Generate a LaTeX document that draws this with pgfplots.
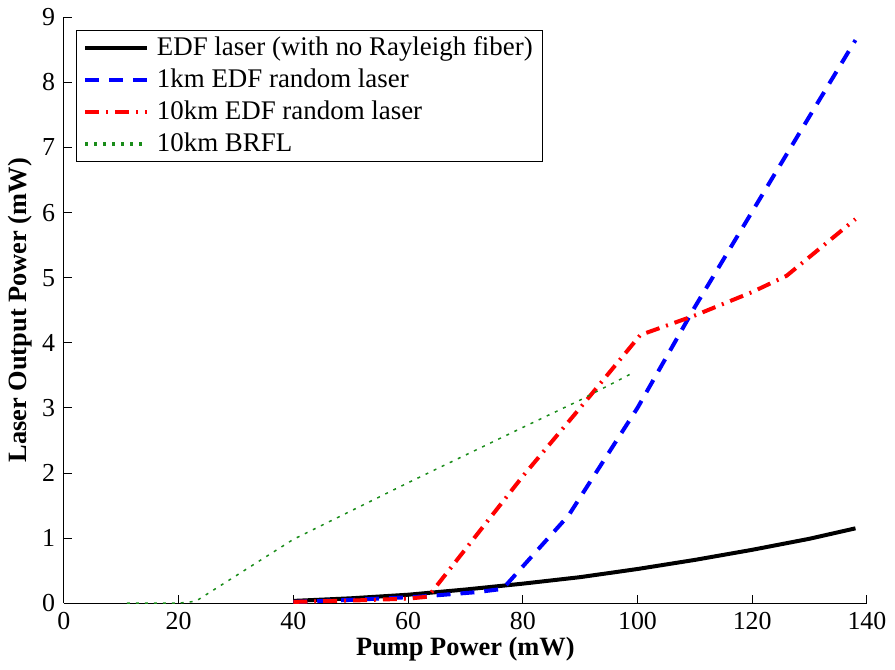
\documentclass[border=0pt]{standalone}
\usepackage{fontspec}
\setmainfont{Liberation Serif}
\usepackage{pgfplots}
\pgfplotsset{compat=1.18}
\definecolor{mgreen}{rgb}{0.1,0.55,0.1}
\begin{document}
\fontsize{26}{31}\selectfont
\begin{tikzpicture}
\begin{axis}[
  scale only axis,
  width=806pt, height=588pt,
  xmin=0, xmax=140, ymin=0, ymax=9,
  xtick={0,20,...,140}, ytick={0,1,...,9},
  axis x line*=bottom, axis y line*=left,
  axis line style={line width=0.9pt, -},
  tick style={line width=0.9pt, black},
  tick align=inside, major tick length=8pt,
  /pgf/number format/assume math mode=true,
  ticklabel style={font=\fontsize{26}{31}\selectfont},
  xlabel={\bfseries Pump Power (mW)},
  ylabel={\bfseries Laser Output Power (mW)},
  label style={font=\fontsize{26.5}{31}\selectfont},
  xlabel style={yshift=10pt},
  ylabel style={yshift=-8pt},
  clip=false,
  legend cell align=left,
  legend style={at={(0,1)}, anchor=north west, xshift=12pt, yshift=-13pt,
    font=\fontsize{27}{32}\selectfont, draw=black, line width=0.9pt,
    inner xsep=7pt, inner ysep=3pt, row sep=3.5pt,
    nodes={inner sep=3pt},
    /tikz/every odd column/.append style={column sep=5pt}},
  legend image code/.code={\draw[#1, line width=\pgfkeysvalueof{/pgfplots/lwleg}] (0pt,0pt) -- (62pt,0pt);},
  lwleg/.initial=4pt,
]
\addplot[black, line width=4pt] coordinates {
(40,0.035) (50,0.075) (60,0.13) (70,0.21) (80,0.30) (90,0.40) (100,0.525) (110,0.665) (120,0.82) (130,0.99) (138,1.15)};
\addlegendentry{EDF laser (with no Rayleigh fiber)}
\addplot[blue, line width=4pt, dash pattern=on 14pt off 10pt] coordinates {
(40,0.02) (50,0.05) (62,0.1) (72,0.17) (76.5,0.22) (88,1.35) (100,3.0) (110,4.55) (125,6.75) (138,8.65)};
\addlegendentry{1km EDF random laser}
\addplot[red, line width=4pt, dash pattern=on 14pt off 7pt on 2pt off 7pt] coordinates {
(40,0.02) (50,0.04) (60,0.07) (63.5,0.1) (80,1.95) (90,3.0) (100.5,4.12) (110,4.42) (120,4.78) (126,5.03) (138,5.9)};
\addlegendentry{10km EDF random laser}
\addplot[mgreen, line width=1.5pt, dash pattern=on 3pt off 6pt] coordinates {
(11,0) (20,0) (23,0.03) (40,0.98) (60,1.85) (80,2.7) (90,3.12) (99,3.53)};
\addlegendentry{10km BRFL}
\end{axis}
\end{tikzpicture}
\end{document}
